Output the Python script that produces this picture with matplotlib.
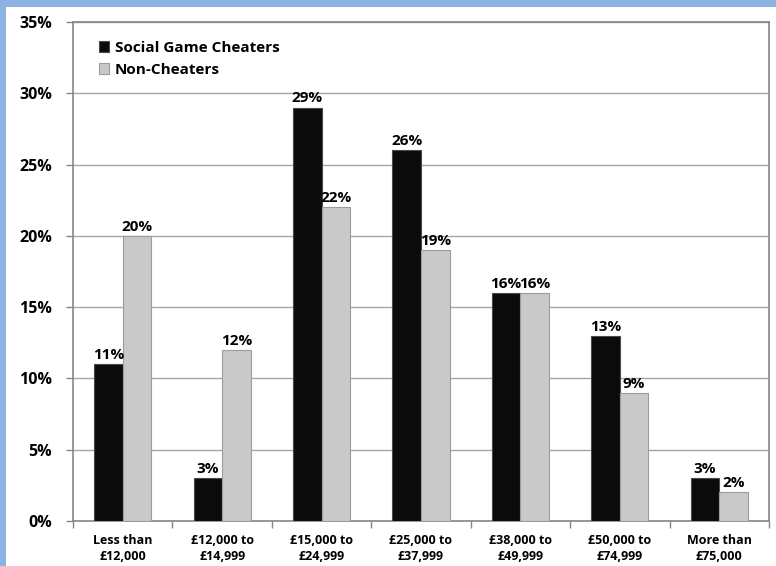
import numpy as np
import matplotlib
matplotlib.use("Agg")
import matplotlib.pyplot as plt
from matplotlib.patches import Rectangle

categories = ["Less than\n£12,000", "£12,000 to\n£14,999", "£15,000 to\n£24,999",
              "£25,000 to\n£37,999", "£38,000 to\n£49,999", "£50,000 to\n£74,999",
              "More than\n£75,000"]
cheaters = [11, 3, 29, 26, 16, 13, 3]
non_cheaters = [20, 12, 22, 19, 16, 9, 2]
series_names = ["Social Game Cheaters", "Non-Cheaters"]

plt.rcParams['font.family'] = ['Open Sans', 'DejaVu Sans']

fig = plt.figure(figsize=(7.76, 5.66), dpi=100)
fig.patch.set_facecolor('#8db3e2')
# white chart area inside the blue frame
fig.patches.append(Rectangle((6 / 776, 0), 1, (566 - 7) / 566, transform=fig.transFigure,
                             facecolor='white', edgecolor='none', zorder=-5))

ax = fig.add_axes([73 / 776, 45 / 566, 696 / 776, 499 / 566])
ax.set_facecolor('white')

x = np.arange(len(categories))
w = 0.287
b1 = ax.bar(x - w / 2, cheaters, w, color='#0b0b0b', edgecolor='#4a4a4a', linewidth=0.8,
            label=series_names[0], zorder=3)
b2 = ax.bar(x + w / 2, non_cheaters, w, color='#c9c9c9', edgecolor='#9c9c9c', linewidth=0.8,
            label=series_names[1], zorder=3)

# data labels
for bars, vals in ((b1, cheaters), (b2, non_cheaters)):
    for r, v in zip(bars, vals):
        ax.annotate(f"{v}%", (r.get_x() + r.get_width() / 2, v), xytext=(0, 1.5),
                    textcoords='offset points', ha='center', va='bottom',
                    fontsize=11, fontweight='bold', zorder=4)

ax.set_ylim(0, 35)
ax.set_xlim(-0.5, len(categories) - 0.5)
ax.set_yticks(np.arange(0, 36, 5))
ax.set_yticklabels([f"{t}%" for t in range(0, 36, 5)], fontsize=11.5, fontweight='bold')
ax.yaxis.grid(True, color='#a6a6a6', linewidth=1, zorder=0)
ax.set_axisbelow(True)

ax.set_xticks(x)
ax.set_xticklabels(categories, fontsize=9, fontweight='bold', linespacing=1.4)
ax.set_xticks(np.arange(-0.5, len(categories), 1), minor=True)
ax.tick_params(axis='x', which='major', length=0, pad=9)
ax.tick_params(axis='x', which='minor', length=5, color='#868686', width=1)
ax.tick_params(axis='y', length=5, color='#868686', width=1, pad=10)

for s in ax.spines.values():
    s.set_color('#868686')
    s.set_linewidth(1.2)

leg = ax.legend(loc='upper left', bbox_to_anchor=(0.017, 0.99), frameon=False,
                prop={'size': 11, 'weight': 'bold'}, handlelength=0.7, handleheight=0.7,
                handletextpad=0.35, labelspacing=0.55)

fig.savefig("out.png", dpi=100, facecolor=fig.get_facecolor())
